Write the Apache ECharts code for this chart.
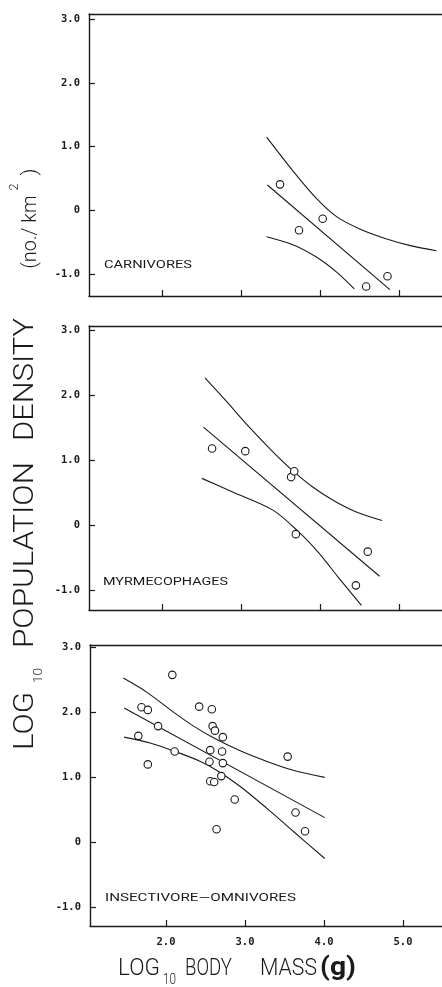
<!DOCTYPE html>
<html>
<head>
<meta charset="utf-8">
<script src="https://cdn.jsdelivr.net/npm/echarts@6/dist/echarts.min.js"></script>
<style>
html,body{margin:0;padding:0;background:#fff;}
#chart{width:442px;height:987px;}
</style>
</head>
<body>
<div id="chart"></div>
<script>
// ---- tick values / labels ----
const xTickValues = [2, 3, 4, 5];
const xTickLabels = ['2.0', '3.0', '4.0', '5.0'];
const yTickValues = [-1, 0, 1, 2, 3];
const yTickLabels = ['-1.0', '0', '1.0', '2.0', '3.0'];

// ---- panel names ----
const panelNames = ['CARNIVORES', 'MYRMECOPHAGES', 'INSECTIVORE\u2014OMNIVORES'];

// ---- carnivores ----
const carnivorePoints = [[3.49, 0.41], [3.73, -0.31], [4.03, -0.13], [4.58, -1.19], [4.85, -1.03]];
const carnivoreFit = [[3.33, 0.40], [4.88, -1.24]];
const carnivoreUpper = [[3.32, 1.15], [3.66, 0.61], [3.95, 0.19], [4.21, -0.10], [4.50, -0.29], [4.80, -0.43], [5.14, -0.55], [5.47, -0.63]];
const carnivoreLower = [[3.32, -0.41], [3.66, -0.54], [3.95, -0.73], [4.21, -0.97], [4.43, -1.23]];

// ---- myrmecophages ----
const myrmPoints = [[2.63, 1.18], [3.05, 1.14], [3.63, 0.74], [3.67, 0.83], [3.69, -0.14], [4.45, -0.93], [4.60, -0.41]];
const myrmFit = [[2.52, 1.51], [4.75, -0.79]];
const myrmUpper = [[2.54, 2.27], [2.81, 1.91], [3.10, 1.51], [3.40, 1.13], [3.65, 0.84], [3.90, 0.59], [4.15, 0.39], [4.44, 0.21], [4.78, 0.07]];
const myrmLower = [[2.50, 0.72], [2.89, 0.51], [3.40, 0.23], [3.73, -0.11], [3.98, -0.43], [4.23, -0.81], [4.52, -1.24]];

// ---- insectivore-omnivores ----
const insectPoints = [
  [2.08, 2.58], [1.69, 2.08], [1.77, 2.04], [1.90, 1.79], [1.65, 1.64], [1.77, 1.20], [2.11, 1.40],
  [2.42, 2.09], [2.58, 2.05], [2.59, 1.79], [2.62, 1.72], [2.72, 1.62], [2.56, 1.42], [2.71, 1.40],
  [2.55, 1.24], [2.72, 1.22], [2.70, 1.02], [2.56, 0.94], [2.61, 0.93], [2.87, 0.66], [2.64, 0.20],
  [3.54, 1.32], [3.64, 0.46], [3.76, 0.17]
];
const insectFit = [[1.47, 2.07], [4.01, 0.38]];
const insectUpper = [[1.46, 2.53], [1.76, 2.31], [2.09, 2.01], [2.35, 1.79], [2.60, 1.61], [2.94, 1.41], [3.27, 1.25], [3.61, 1.11], [4.01, 1.00]];
const insectLower = [[1.47, 1.62], [1.80, 1.53], [2.09, 1.41], [2.43, 1.25], [2.64, 1.11], [2.94, 0.86], [3.27, 0.53], [3.61, 0.17], [4.01, -0.25]];

const panels = [
  { pts: carnivorePoints, fit: carnivoreFit, up: carnivoreUpper, lo: carnivoreLower },
  { pts: myrmPoints, fit: myrmFit, up: myrmUpper, lo: myrmLower },
  { pts: insectPoints, fit: insectFit, up: insectUpper, lo: insectLower }
];

// ---- layout (pixels / axis extents) ----
const gridBoxes = [
  { left: 89, top: 14, width: 353, height: 282 },
  { left: 89, top: 326, width: 353, height: 284 },
  { left: 90, top: 645, width: 352, height: 281 }
];
const xRanges = [[1.072, 5.54], [1.072, 5.54], [1.038, 5.494]];
const yRanges = [[-1.34, 3.08], [-1.31, 3.07], [-1.29, 3.04]];

const INK = '#1a1a1a';
const TICKFONT = 'DejaVu Sans Mono';
const TITLEFONT = 'Roboto';

function labelFor(values, labels) {
  return function (v) {
    for (let i = 0; i < values.length; i++) if (Math.abs(values[i] - v) < 1e-6) return labels[i];
    return '';
  };
}

const ctx = document.createElement('canvas').getContext('2d');
function measure(text, size, weight) {
  ctx.font = (weight || 'normal') + ' ' + size + 'px "' + TITLEFONT + '"';
  return ctx.measureText(text).width;
}
function txt(text, cx, cy, size, len, rotated, weight) {
  const w = measure(text, size, weight);
  return {
    type: 'text', silent: true,
    x: cx, y: cy,
    rotation: rotated ? Math.PI / 2 : 0,
    scaleX: len / w, scaleY: 1,
    style: {
      text: text, fontFamily: TITLEFONT, fontSize: size, fontWeight: weight || 'normal',
      fill: INK, align: 'center', verticalAlign: 'middle'
    }
  };
}

const grids = [], xAxes = [], yAxes = [], series = [];
gridBoxes.forEach(function (g, i) {
  grids.push(Object.assign({ containLabel: false }, g));
  xAxes.push({
    type: 'value', gridIndex: i, position: 'bottom',
    min: xRanges[i][0], max: xRanges[i][1],
    axisLine: { show: true, onZero: false, lineStyle: { color: INK, width: 1.4 } },
    axisTick: { show: true, inside: true, length: 6, customValues: xTickValues, lineStyle: { color: INK, width: 1.2 } },
    axisLabel: {
      show: i === 2, customValues: xTickValues, formatter: labelFor(xTickValues, xTickLabels),
      margin: 11, color: INK, fontFamily: TICKFONT, fontSize: 10.5, fontWeight: 'bold'
    },
    splitLine: { show: false }
  });
  xAxes.push({
    type: 'value', gridIndex: i, position: 'top',
    min: xRanges[i][0], max: xRanges[i][1],
    axisLine: { show: true, onZero: false, lineStyle: { color: INK, width: 1.4 } },
    axisTick: { show: false }, axisLabel: { show: false }, splitLine: { show: false }
  });
  yAxes.push({
    type: 'value', gridIndex: i,
    min: yRanges[i][0], max: yRanges[i][1],
    axisLine: { show: true, onZero: false, lineStyle: { color: INK, width: 1.4 } },
    axisTick: { show: true, inside: true, length: 6, customValues: yTickValues, lineStyle: { color: INK, width: 1.2 } },
    axisLabel: {
      show: true, customValues: yTickValues, formatter: labelFor(yTickValues, yTickLabels),
      margin: 9, color: INK, fontFamily: TICKFONT, fontSize: 10.5, fontWeight: 'bold'
    },
    splitLine: { show: false }
  });
  const p = panels[i];
  [p.up, p.fit, p.lo].forEach(function (d) {
    series.push({
      type: 'line', xAxisIndex: i * 2, yAxisIndex: i, data: d,
      smooth: 0.3, showSymbol: false, symbol: 'none', silent: true, z: 2,
      lineStyle: { color: INK, width: 1.1 }
    });
  });
  series.push({
    type: 'scatter', xAxisIndex: i * 2, yAxisIndex: i, data: p.pts,
    symbol: 'circle', symbolSize: 7.5, silent: true, z: 3,
    itemStyle: { color: '#fff', borderColor: INK, borderWidth: 1.1, opacity: 1 }
  });
});

const graphics = [
  // panel labels
  txt(panelNames[0], 148, 265.5, 11.5, 88, false),
  txt(panelNames[1], 165.5, 582, 11.5, 125, false),
  txt(panelNames[2], 200.5, 898.5, 11.5, 191, false),
  // x-axis title
  txt('LOG', 139, 969.5, 23, 42, false, '300'),
  txt('10', 169.5, 980.5, 14, 13, false, '300'),
  txt('BODY', 208.5, 969.5, 23, 47, false, '300'),
  txt('MASS', 288.5, 969.5, 23, 57, false, '300'),
  txt('(g)', 338, 969, 25, 36, false, 'bold'),
  // y-axis title (reads bottom to top)
  txt('LOG', 26, 721, 28, 58, true, '300'),
  txt('10', 39, 675.5, 13, 15, true, '300'),
  txt('POPULATION', 26, 555, 28, 186, true, '300'),
  txt('DENSITY', 26, 379.5, 28, 123, true, '300'),
  txt('(no./ km', 31, 232, 21, 73, true, '300'),
  txt('2', 15, 187, 13, 7, true, '300'),
  txt(')', 31, 172, 21, 7, true, '300')
];

const chart = echarts.init(document.getElementById('chart'), null, { renderer: 'canvas' });
chart.setOption({
  backgroundColor: '#ffffff',
  animation: false,
  grid: grids,
  xAxis: xAxes,
  yAxis: yAxes,
  series: series,
  graphic: graphics
});
</script>
</body>
</html>
